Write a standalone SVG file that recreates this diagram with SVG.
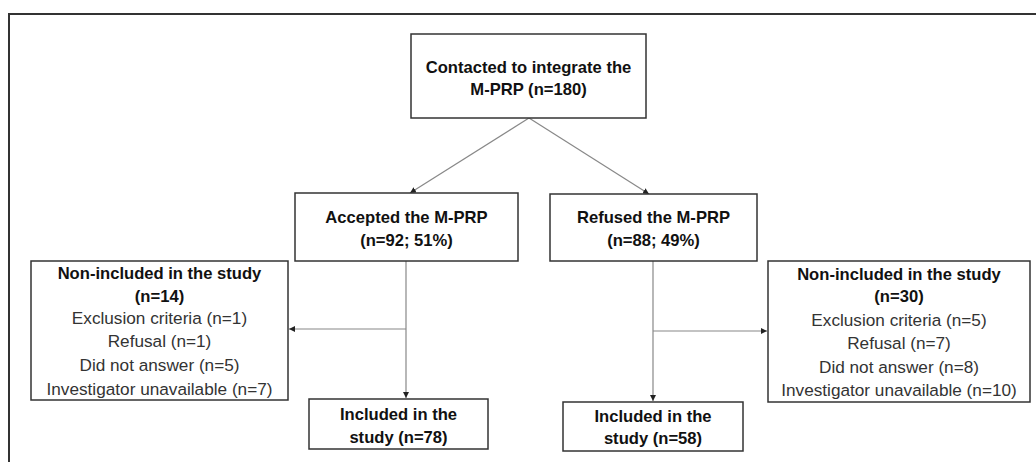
<svg xmlns="http://www.w3.org/2000/svg" width="1036" height="462" viewBox="0 0 1036 462">
<style>
.box{fill:#fff;stroke:#333;stroke-width:1.5}
.b{font-family:"Liberation Sans",Arial,sans-serif;font-weight:bold;font-size:16.6px;fill:#111;text-anchor:middle}
.r{font-family:"Liberation Sans",Arial,sans-serif;font-size:17.2px;fill:#333;text-anchor:middle}
.c{stroke:#888;stroke-width:1.2;fill:none;marker-end:url(#ah)}
</style>
<defs>
<marker id="ah" viewBox="0 0 8 8" refX="8" refY="4" markerWidth="6" markerHeight="6" orient="auto" markerUnits="userSpaceOnUse">
<path d="M0,0 L8,4 L0,8 z" fill="#222"/>
</marker>
</defs>
<rect width="1036" height="462" fill="#fff"/>
<g id="frame">
<path d="M1036,14 H9 V462" stroke="#333" stroke-width="2" fill="none"/>
</g>
<g id="connectors">
<path class="c" d="M529,118 L410,193"/>
<path class="c" d="M529,118 L649,194"/>
<path class="c" d="M406,261 V398"/>
<path class="c" d="M406,329 H289"/>
<path class="c" d="M653,261 V401"/>
<path class="c" d="M653,331 H767"/>
</g>
<g id="contacted">
<rect class="box" x="411" y="34" width="235" height="84"/>
<text class="b" x="528.5" y="73">Contacted to integrate the</text>
<text class="b" x="528.5" y="95">M-PRP (n=180)</text>
</g>
<g id="accepted">
<rect class="box" x="295" y="193" width="223" height="68"/>
<text class="b" x="406.5" y="223">Accepted the M-PRP</text>
<text class="b" x="406.5" y="246">(n=92; 51%)</text>
</g>
<g id="refused">
<rect class="box" x="550" y="194" width="207" height="67"/>
<text class="b" x="653.5" y="223">Refused the M-PRP</text>
<text class="b" x="653.5" y="246">(n=88; 49%)</text>
</g>
<g id="nonincluded-left">
<rect class="box" x="31" y="261" width="257" height="139"/>
<text class="b" x="159.5" y="279">Non-included in the study</text>
<text class="b" x="159.5" y="302">(n=14)</text>
<text class="r" x="159.5" y="324">Exclusion criteria (n=1)</text>
<text class="r" x="159.5" y="347">Refusal (n=1)</text>
<text class="r" x="159.5" y="371">Did not answer (n=5)</text>
<text class="r" x="159.5" y="395">Investigator unavailable (n=7)</text>
</g>
<g id="nonincluded-right">
<rect class="box" x="768" y="261" width="262" height="141"/>
<text class="b" x="899" y="280">Non-included in the study</text>
<text class="b" x="899" y="302">(n=30)</text>
<text class="r" x="899" y="326">Exclusion criteria (n=5)</text>
<text class="r" x="899" y="349">Refusal (n=7)</text>
<text class="r" x="899" y="373">Did not answer (n=8)</text>
<text class="r" x="899" y="396">Investigator unavailable (n=10)</text>
</g>
<g id="included-left">
<rect class="box" x="309" y="399" width="179" height="50"/>
<text class="b" x="398.5" y="420">Included in the</text>
<text class="b" x="398.5" y="443">study (n=78)</text>
</g>
<g id="included-right">
<rect class="box" x="563" y="402" width="180" height="49"/>
<text class="b" x="653" y="422">Included in the</text>
<text class="b" x="653" y="444">study (n=58)</text>
</g>
</svg>
